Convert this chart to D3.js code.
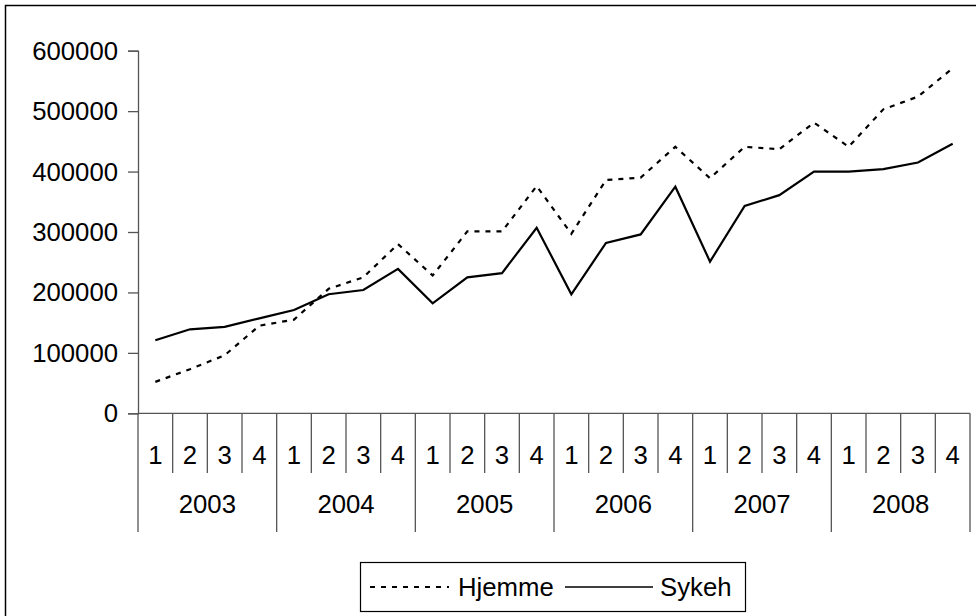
<!DOCTYPE html>
<html>
<head>
<meta charset="utf-8">
<script src="https://cdn.jsdelivr.net/npm/d3@7"></script>
<style>
  body { margin: 0; background: #fff; }
  svg text { font-family: "Liberation Sans", Arial, sans-serif; fill: #000; }
</style>
</head>
<body>
<svg id="chart" width="976" height="616"></svg>
<script>
let years = ['2003', '2004', '2005', '2006', '2007', '2008'];
let quarters = ['1', '2', '3', '4'];
let hjemme = [52000, 73000, 96000, 145000, 155000, 206000, 225000, 280000,
  228000, 301000, 301000, 376000, 297000, 386000, 390000, 441000,
  389000, 441000, 437000, 481000, 441000, 503000, 524000, 571000];
let sykeh = [121000, 139000, 143000, 157000, 171000, 197000, 204000, 239000,
  182000, 225000, 232000, 307000, 197000, 282000, 296000, 375000,
  251000, 343000, 361000, 400000, 400000, 404000, 415000, 446000];
let yTicks = [0, 100000, 200000, 300000, 400000, 500000, 600000];
let seriesNames = ['Hjemme', 'Sykeh'];

let svg = d3.select('#chart');
let fontSize = 25;
let stretch = 1.03; // labels in the picture are a touch wide

// outer frame, cut off at right and bottom
svg.append('rect')
  .attr('x', 5.5).attr('y', 5.5)
  .attr('width', 1000).attr('height', 700)
  .attr('fill', 'none')
  .attr('stroke', '#000')
  .attr('stroke-width', 1.5);

let cats = [];
years.forEach(yr => quarters.forEach(q => cats.push(yr + '-' + q)));

let x = d3.scaleBand()
  .domain(cats)
  .range([138, 970]);

let y = d3.scaleLinear()
  .domain([0, 600000])
  .range([413.3, 50.7]);

function label(g, tx, ty, txt, anchor) {
  g.append('text')
    .attr('transform', 'translate(' + tx + ',' + ty + ') scale(' + stretch + ',1)')
    .attr('text-anchor', anchor)
    .style('font-size', fontSize + 'px')
    .text(txt);
}

// y axis
let axisCol = '#555';
let yAxis = svg.append('g')
  .attr('transform', 'translate(138,0)')
  .call(d3.axisLeft(y).tickValues(yTicks).tickSize(10).tickFormat(''));
yAxis.select('.domain').attr('stroke', axisCol).attr('stroke-width', 1.3);
yAxis.selectAll('.tick line').attr('stroke', axisCol).attr('stroke-width', 1.3);
yTicks.forEach(v => label(svg, 118, y(v) + 9, d3.format('d')(v), 'end'));

// x axis: baseline and category separators
svg.append('line')
  .attr('x1', 138).attr('x2', 970)
  .attr('y1', y(0)).attr('y2', y(0))
  .attr('stroke', axisCol).attr('stroke-width', 1.3);

let bounds = cats.map(c => x(c)).concat([x.range()[1]]);
svg.selectAll('.sep')
  .data(bounds)
  .enter().append('line')
  .attr('class', 'sep')
  .attr('x1', d => d).attr('x2', d => d)
  .attr('y1', y(0))
  .attr('y2', (d, i) => i % 4 === 0 ? 532 : 473)
  .attr('stroke', axisCol).attr('stroke-width', 1.3);

cats.forEach(c => {
  label(svg, x(c) + x.bandwidth() / 2, 464, c.split('-')[1], 'middle');
});
years.forEach(yr => {
  let x0 = x(yr + '-1');
  let x1 = x(yr + '-4') + x.bandwidth();
  label(svg, (x0 + x1) / 2, 513, yr, 'middle');
});

// lines
let line = d3.line()
  .x((d, i) => x(cats[i]) + x.bandwidth() / 2)
  .y(d => y(d));

svg.append('path')
  .datum(hjemme)
  .attr('d', line)
  .attr('fill', 'none')
  .attr('stroke', '#000')
  .attr('stroke-width', 2.2)
  .attr('stroke-dasharray', '5,6');

svg.append('path')
  .datum(sykeh)
  .attr('d', line)
  .attr('fill', 'none')
  .attr('stroke', '#000')
  .attr('stroke-width', 2.2);

// legend
let legend = svg.append('g');
legend.append('rect')
  .attr('x', 360.5).attr('y', 562.5)
  .attr('width', 385).attr('height', 49)
  .attr('fill', '#fff')
  .attr('stroke', '#000')
  .attr('stroke-width', 1.2);

legend.append('line')
  .attr('x1', 370).attr('x2', 449)
  .attr('y1', 587).attr('y2', 587)
  .attr('stroke', '#000').attr('stroke-width', 2.2)
  .attr('stroke-dasharray', '5,6');
label(legend, 458, 596, seriesNames[0], 'start');

legend.append('line')
  .attr('x1', 565).attr('x2', 653)
  .attr('y1', 587).attr('y2', 587)
  .attr('stroke', '#000').attr('stroke-width', 1.6);
label(legend, 660, 596, seriesNames[1], 'start');
</script>
</body>
</html>
